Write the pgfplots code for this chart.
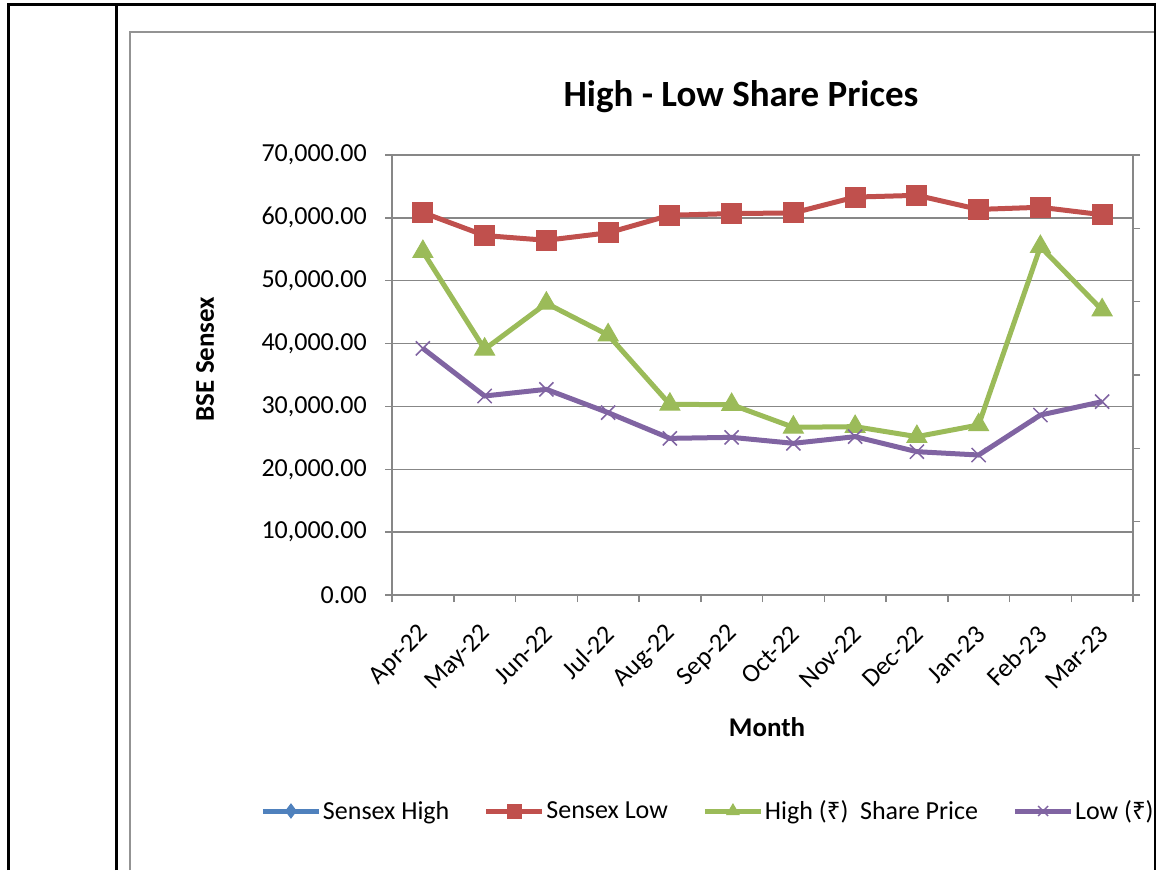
\documentclass[border=0pt]{standalone}
\usepackage{fontspec}
\setmainfont{Carlito}
\newfontfamily\rupfont{Noto Sans}
\usepackage{pgfplots}
\pgfplotsset{compat=1.18}
\definecolor{cblue}{HTML}{4F81BD}
\definecolor{cred}{HTML}{C0504D}
\definecolor{cgreen}{HTML}{9BBB59}
\definecolor{cpurple}{HTML}{8064A2}
\definecolor{axgray}{HTML}{878787}
\newcommand{\rs}{{\rupfont\fontsize{24}{28}\selectfont ₹}}
\begin{document}
\begin{tikzpicture}
\path[use as bounding box] (0pt,0pt) rectangle (1156pt,870pt);
\draw[axgray!90, line width=1.5pt] (130pt,0pt) -- (130pt,838pt) -- (1156pt,838pt);
\begin{axis}[
  at={(392pt,275pt)}, anchor=south west,
  scale only axis, width=741pt, height=440pt,
  xmin=-0.5, xmax=11.5, ymin=0, ymax=70000,
  axis x line*=bottom, axis y line*=left,
  axis line style={axgray, line width=1.5pt, -},
  xtick={0,...,11},
  xticklabels={Apr-22,May-22,Jun-22,Jul-22,Aug-22,Sep-22,Oct-22,Nov-22,Dec-22,Jan-23,Feb-23,Mar-23},
  major x tick style={draw=none},
  minor xtick={-0.5,0.5,...,11.5},
  minor x tick style={axgray, line width=1.5pt},
  ytick={0,10000,...,70000},
  major y tick style={axgray, line width=1.5pt},
  tick align=outside, major tick length=7pt, minor tick length=7pt,
  ymajorgrids, grid style={axgray, line width=1.5pt},
  /pgf/number format/.cd, fixed, fixed zerofill, precision=2, 1000 sep={,}, assume math mode=true,
  /pgfplots/.cd,
  scaled y ticks=false,
  y tick label style={font=\fontsize{26}{30}\selectfont, anchor=east, inner sep=0pt, xshift=-18pt},
  x tick label style={font=\fontsize{26}{30}\selectfont, xshift=2pt, yshift=-28pt, rotate=45, anchor=east, inner sep=0pt},
  clip=false,
  legend columns=4,
  legend style={at={(-0.1775,-0.4909)}, anchor=west, draw=none, fill=none,
    font=\fontsize{26}{30}\selectfont, inner sep=0pt, outer sep=0pt,
    nodes={inner sep=1.5pt},
    /tikz/every even column/.append style={column sep=33pt}},
  legend cell align=left,
  legend image code/.code={\draw[#1, mark repeat=2, mark phase=2] plot coordinates {(0pt,0pt) (28pt,0pt) (56pt,0pt)};},
  legend image post style={mark size=7pt},
]
\addlegendimage{cblue, line width=5pt, mark=diamond*, mark options={solid, fill=cblue, draw=cblue, line width=1pt}}
\addlegendentry{Sensex High}
\addplot[cred, line width=5pt, mark=square*, mark size=10pt, mark options={solid, fill=cred, draw=cred, line width=1pt}] coordinates {
(0,60845) (1,57184) (2,56432) (3,57619) (4,60411) (5,60676) (6,60786) (7,63303) (8,63583) (9,61343) (10,61682) (11,60498)};
\addlegendentry{Sensex Low}
\addplot[cgreen, line width=5pt, mark=triangle*, mark size=11.5pt, mark options={solid, fill=cgreen, draw=cgreen, line width=1pt}] coordinates {
(0,54620) (1,39090) (2,46400) (3,41360) (4,30330) (5,30280) (6,26680) (7,26780) (8,25190) (9,27050) (10,55410) (11,45340)};
\addlegendentry{High (\rs)\ \ Share Price}
\addplot[cpurple, line width=5pt, mark=x, mark size=10pt, mark options={solid, draw=cpurple, line width=1.5pt}] coordinates {
(0,39240) (1,31660) (2,32720) (3,29010) (4,24920) (5,25080) (6,24130) (7,25190) (8,22800) (9,22270) (10,28630) (11,30760)};
\addlegendentry{Low (\rs)}
\end{axis}
\begin{axis}[
  at={(392pt,275pt)}, anchor=south west,
  scale only axis, width=741pt, height=440pt,
  xmin=0, xmax=1, ymin=0, ymax=6,
  axis x line=none, axis y line*=right,
  axis line style={axgray, line width=1.5pt, -},
  ytick={0,...,6}, yticklabels={},
  tick align=outside, major tick length=7pt,
  major y tick style={axgray, line width=1.5pt},
]
\end{axis}
\node[font=\fontsize{37}{44}\selectfont\bfseries] at (741pt,773pt) {High - Low Share Prices};
\node[font=\fontsize{27}{32}\selectfont\bfseries, rotate=90] at (205pt,511pt) {BSE Sensex};
\node[font=\fontsize{27}{32}\selectfont\bfseries] at (767pt,143pt) {Month};
\draw[black, line width=3pt] (8pt,0pt) -- (8pt,865pt) -- (1155pt,865pt) -- (1155pt,0pt);
\draw[black, line width=3pt] (116pt,0pt) -- (116pt,865pt);
\end{tikzpicture}
\end{document}
